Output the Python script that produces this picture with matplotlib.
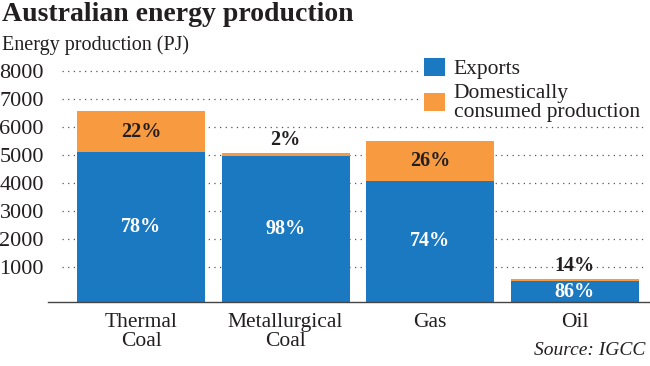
import numpy as np
import matplotlib.pyplot as plt

# data (PJ)
categories = ['Thermal\nCoal', 'Metallurgical\nCoal', 'Gas', 'Oil']
exports = np.array([5100, 4960, 4080, 480])
domestic = np.array([1450, 100, 1430, 80])
yticks = [1000, 2000, 3000, 4000, 5000, 6000, 7000, 8000]

blue = '#1b79c2'
orange = '#f89a40'
dark = '#231f20'
plt.rcParams['font.family'] = ['Liberation Serif', 'DejaVu Serif']

fig = plt.figure(figsize=(6.5, 3.66), dpi=100)
ax = fig.add_axes([0.074, 0.175, 0.926, 0.666])

base = -250  # bars sit slightly below the zero line in the original
x = np.arange(len(categories))
total = exports + domestic

ax.bar(x, exports - base, bottom=base, width=0.886, color=blue, label='Exports', zorder=2)
ax.bar(x, domestic, bottom=exports, width=0.886, color=orange,
       label='Domestically\nconsumed production', zorder=2)

ax.set_xlim(-0.644, 3.522)
ax.set_ylim(base, 8450)

# dotted grid
for y in yticks:
    ax.plot([-0.55, 3.48], [y, y], linestyle=(0, (1, 3.5)), color='#555555', lw=0.9, zorder=1)

# percentage labels
for i in range(len(x)):
    pe = round(100 * exports[i] / total[i])
    pd_ = round(100 * domestic[i] / total[i])
    ax.text(x[i], (base + exports[i]) / 2, f'{pe}%', color='white', ha='center', va='center',
            fontsize=14.5, fontweight='bold', zorder=3)
    if domestic[i] > 500:
        ax.text(x[i], exports[i] + domestic[i] / 2, f'{pd_}%', color=dark, ha='center',
                va='center', fontsize=14.5, fontweight='bold', zorder=3)
    else:
        ax.text(x[i], total[i] + 120, f'{pd_}%', color=dark, ha='center', va='bottom',
                fontsize=14.5, fontweight='bold', zorder=3)

ax.set_yticks(yticks)
ax.set_yticklabels([str(t) for t in yticks], fontsize=16, color=dark)
ax.set_xticks(x)
ax.set_xticklabels(categories, fontsize=15.5, color=dark, linespacing=1.0)
ax.tick_params(length=0, pad=3)
ax.tick_params(axis='x', pad=8)
for s in ['top', 'right', 'left']:
    ax.spines[s].set_visible(False)
ax.spines['bottom'].set_color('#444444')
ax.spines['bottom'].set_linewidth(1)
ax.spines['bottom'].set_bounds(-0.644, 3.522)

leg = ax.legend(loc='upper right', bbox_to_anchor=(0.99, 1.02), frameon=True, fontsize=15.5,
                handlelength=0.95, handleheight=0.95, handletextpad=0.4, borderpad=0.2,
                labelspacing=0.2, fancybox=False, borderaxespad=0)
leg.get_frame().set_facecolor('white')
leg.get_frame().set_edgecolor('none')
leg.get_frame().set_alpha(1)
for t in leg.get_texts():
    t.set_color(dark)
    t.set_linespacing(1.0)

fig.text(0.003, 0.995, 'Australian energy production', fontsize=20, fontweight='bold',
         color=dark, va='top', ha='left')
fig.text(0.003, 0.905, 'Energy production (PJ)', fontsize=14.5, color=dark, va='top', ha='left')
fig.text(0.993, 0.02, 'Source: IGCC', fontsize=14, style='italic', color=dark,
         ha='right', va='bottom')

fig.savefig('out.png', dpi=100)
